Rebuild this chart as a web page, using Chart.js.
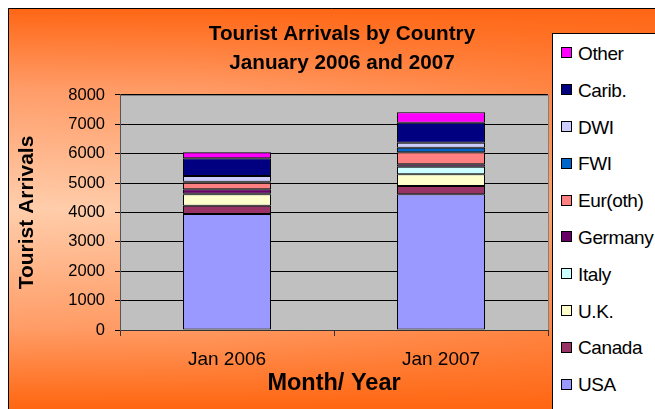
<!DOCTYPE html>
<html>
<head>
<meta charset="utf-8">
<script src="https://cdn.jsdelivr.net/npm/chart.js@4.4.0/dist/chart.umd.min.js"></script>
<style>
  html, body { margin: 0; padding: 0; background: #fff; overflow: hidden; }
  #wrap { position: relative; width: 655px; height: 409px; }
  #c { position: absolute; left: 0; top: 0; }
  #legend {
    position: absolute; left: 552px; top: 33px; width: 140px; height: 420px;
    background: #fff; border: 1px solid #000; box-sizing: border-box;
    font-family: 'Liberation Sans', Arial, sans-serif; font-size: 19px; color: #000;
  }
  .li { position: absolute; left: 8px; height: 22px; line-height: 22px; white-space: nowrap; letter-spacing: -0.4px; }
  .mk { display: inline-block; width: 11px; height: 11px; border: 1px solid #000; box-sizing: border-box; vertical-align: middle; margin-right: 6px; position: relative; top: -2px; }
</style>
</head>
<body>
<div id="wrap">
  <canvas id="c" width="655" height="409"></canvas>
  <div id="legend"></div>
</div>
<script>
// ---- Data ----
const categories = ['Jan 2006', 'Jan 2007'];
const seriesNames = ['USA', 'Canada', 'U.K.', 'Italy', 'Germany', 'Eur(oth)', 'FWI', 'DWI', 'Carib.', 'Other'];
const usa     = [3950, 4620];
const canada  = [282, 282];
const uk      = [389, 398];
const italy   = [20, 259];
const germany = [150, 82];
const eurOth  = [224, 408];
const fwi     = [35, 157];
const dwi     = [194, 170];
const carib   = [602, 681];
const other   = [204, 354];
const yTicks  = [0, 1000, 2000, 3000, 4000, 5000, 6000, 7000, 8000];
const titleLines = ['Tourist Arrivals by Country', 'January 2006 and 2007'];

const seriesValues = [usa, canada, uk, italy, germany, eurOth, fwi, dwi, carib, other];
const seriesColors = ['#9999FF', '#993366', '#FFFFCC', '#CCFFFF', '#660066', '#FF8080', '#0066CC', '#CCCCFF', '#000080', '#FF00FF'];

const FONT = "'Liberation Sans', Arial, sans-serif";

const bgPlugin = {
  id: 'bg',
  beforeDraw(chart) {
    const ctx = chart.ctx;
    const W = chart.width, H = chart.height;
    ctx.save();
    ctx.fillStyle = '#fff';
    ctx.fillRect(0, 0, W, H);
    const x0 = 8, y0 = 8;
    const g = ctx.createLinearGradient(0, y0, 0, H);
    g.addColorStop(0.0, '#FF6614');
    g.addColorStop(0.2, '#FF9C68');
    g.addColorStop(0.5, '#FFCEAC');
    g.addColorStop(0.8, '#FF9C66');
    g.addColorStop(1.0, '#FF6610');
    ctx.fillStyle = g;
    ctx.fillRect(x0, y0, W - x0, H - y0);
    const h = ctx.createLinearGradient(x0, 0, W, 0);
    h.addColorStop(0.0, 'rgba(255,102,20,0)');
    h.addColorStop(0.3, 'rgba(255,102,20,0.05)');
    h.addColorStop(1.0, 'rgba(255,102,20,0.55)');
    ctx.fillStyle = h;
    ctx.fillRect(x0, y0, W - x0, H - y0);
    ctx.strokeStyle = '#000';
    ctx.lineWidth = 1;
    ctx.beginPath();
    ctx.moveTo(x0 + 0.5, H);
    ctx.lineTo(x0 + 0.5, y0 + 0.5);
    ctx.lineTo(W, y0 + 0.5);
    ctx.stroke();
    const a = chart.chartArea;
    ctx.fillStyle = '#C0C0C0';
    ctx.fillRect(a.left, a.top, a.right - a.left, a.bottom - a.top);
    ctx.strokeStyle = '#808080';
    ctx.strokeRect(Math.round(a.left) + 0.5, Math.round(a.top) + 0.5, Math.round(a.right - a.left), Math.round(a.bottom - a.top));
    ctx.restore();
  },
  afterLayout(chart) {
    const t = chart.titleBlock;
    if (t) { t.left += 8; t.right += 8; }
  }
};

const datasets = seriesNames.map((name, i) => ({
  label: name,
  data: seriesValues[i],
  backgroundColor: seriesColors[i],
  borderColor: '#000',
  borderWidth: 1,
  borderSkipped: false,
  categoryPercentage: 1.0,
  barPercentage: 0.411
}));

const chart = new Chart(document.getElementById('c'), {
  type: 'bar',
  data: { labels: categories, datasets },
  plugins: [bgPlugin],
  options: {
    responsive: false,
    animation: false,
    devicePixelRatio: 1,
    layout: { padding: { left: 8, top: 8, right: 107, bottom: 0 } },
    plugins: {
      legend: { display: false },
      tooltip: { enabled: false },
      title: {
        display: true,
        text: titleLines,
        fullSize: false,
        color: '#000',
        font: { family: FONT, size: 20.7, weight: 'bold', lineHeight: 1.4 },
        padding: { top: 11.5, bottom: 17.5 }
      }
    },
    scales: {
      x: {
        stacked: true,
        offset: true,
        grid: { display: true, drawOnChartArea: false, drawTicks: true, tickLength: 6, color: '#333', offset: true },
        border: { display: true, color: '#333', width: 1 },
        ticks: { color: '#000', padding: 12.6, font: { family: FONT, size: 19 }, maxRotation: 0 },
        title: { display: true, text: 'Month/ Year', color: '#000', font: { family: FONT, size: 23.5, weight: 'bold', lineHeight: 1.2 }, padding: { top: 0, bottom: 10.9 } },
        afterFit(s) { s.height = 79; }
      },
      y: {
        stacked: true,
        min: 0,
        max: 8000,
        afterBuildTicks(s) { s.ticks = yTicks.map(v => ({ value: v })); },
        grid: { color: '#000', lineWidth: 1, drawTicks: true, tickLength: 5 },
        border: { display: true, color: '#555', width: 1 },
        ticks: { color: '#000', padding: 10, font: { family: FONT, size: 16.5 }, callback: (v) => String(v) },
        title: { display: true, text: 'Tourist Arrivals', color: '#000', font: { family: FONT, size: 21, weight: 'bold', lineHeight: 1.2 }, padding: { top: 7, bottom: 0 } },
        afterFit(s) { s.width = 112; }
      }
    }
  }
});

// HTML legend built from the chart's own legend items (reversed, Other on top)
const legendEl = document.getElementById('legend');
const items = chart.options.plugins.legend.labels.generateLabels(chart).slice().reverse();
const firstCenter = 54, step = 36.8, legendTop = 33;
items.forEach((it, k) => {
  const row = document.createElement('div');
  row.className = 'li';
  row.style.top = (firstCenter + k * step - legendTop - 1 - 11) + 'px';
  const mk = document.createElement('span');
  mk.className = 'mk';
  mk.style.background = it.fillStyle;
  row.appendChild(mk);
  row.appendChild(document.createTextNode(it.text));
  legendEl.appendChild(row);
});
</script>
</body>
</html>
